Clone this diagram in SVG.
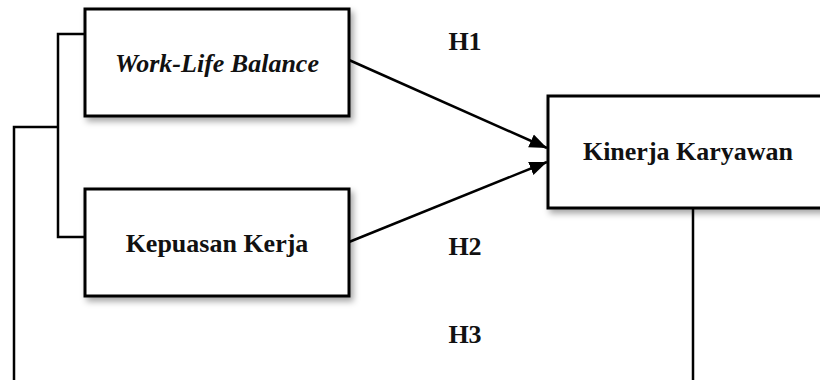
<svg xmlns="http://www.w3.org/2000/svg" width="820" height="380" viewBox="0 0 820 380">
<defs>
<style>
.box{fill:#fff;stroke:#000;stroke-width:3;filter:url(#sh)}
.lbl{font-family:"Liberation Serif","Times New Roman",serif;font-weight:bold;font-size:26px;fill:#111;text-anchor:middle}
.con{fill:none;stroke:#000;stroke-width:2.5}
</style>
<filter id="sh" x="-10%" y="-10%" width="130%" height="140%">
<feDropShadow dx="3" dy="4" stdDeviation="3" flood-color="#000" flood-opacity="0.35"/>
</filter>
<marker id="arr" viewBox="0 0 10 10" refX="10" refY="5" markerWidth="7" markerHeight="7" orient="auto" markerUnits="strokeWidth">
<path d="M0,1 L10,5 L0,9 z" fill="#000"/>
</marker>
</defs>
<g id="connectors">
<path class="con" d="M85,34 H58 V237 H85"/>
<path class="con" d="M58,127 H14 V381.5 H693 V208"/>
<line class="con" x1="349" y1="60" x2="547" y2="148" marker-end="url(#arr)"/>
<line class="con" x1="349" y1="242" x2="547" y2="162" marker-end="url(#arr)"/>
</g>
<g id="node-wlb">
<rect class="box" x="85" y="9" width="264" height="107"/>
<text class="lbl" x="217" y="72" font-style="italic">Work-Life Balance</text>
</g>
<g id="node-kepuasan">
<rect class="box" x="85" y="189" width="264" height="107"/>
<text class="lbl" x="217" y="252">Kepuasan Kerja</text>
</g>
<g id="node-kinerja">
<rect class="box" x="548" y="96" width="285" height="112"/>
<text class="lbl" x="688" y="160">Kinerja Karyawan</text>
</g>
<g id="labels">
<text class="lbl" x="465" y="50">H1</text>
<text class="lbl" x="465" y="255">H2</text>
<text class="lbl" x="465" y="343">H3</text>
</g>
</svg>
